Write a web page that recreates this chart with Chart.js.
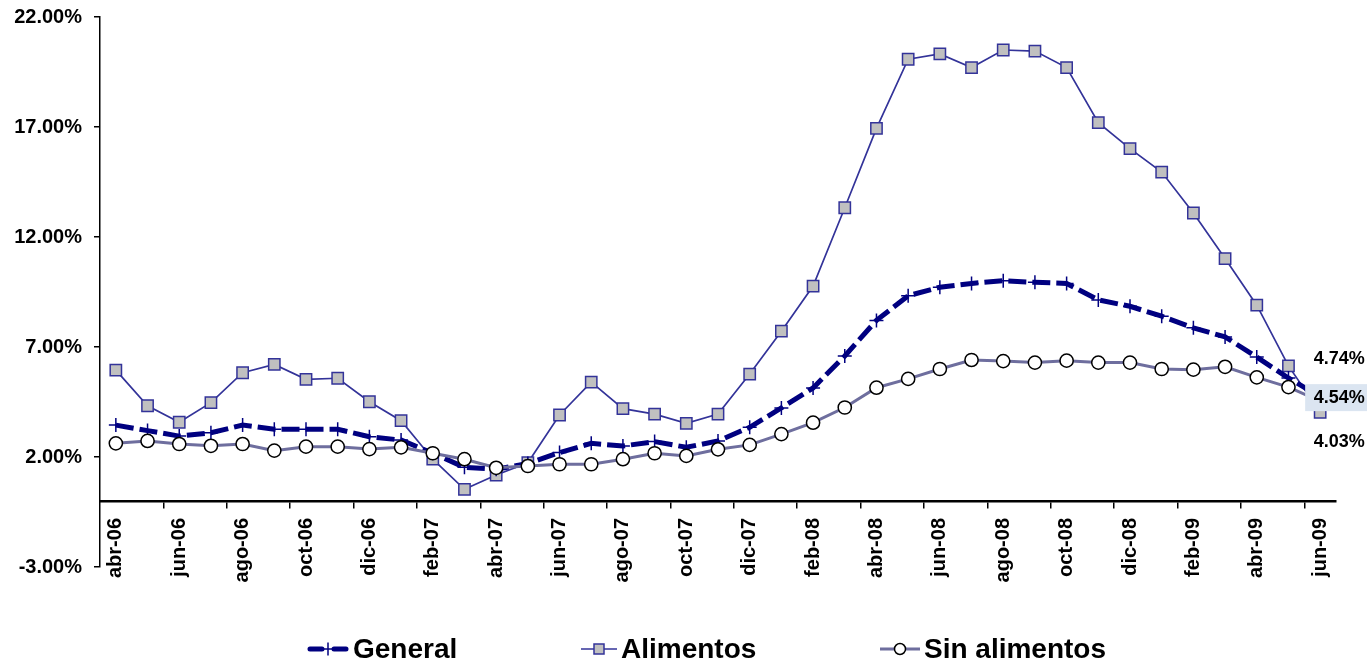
<!DOCTYPE html>
<html>
<head>
<meta charset="utf-8">
<script src="https://cdn.jsdelivr.net/npm/chart.js@4.4.0/dist/chart.umd.min.js"></script>
<style>
  html, body { margin: 0; padding: 0; background: #fff; }
  #wrap { position: relative; width: 1367px; height: 662px; }
  #box { position: absolute; left: 0; top: 0; width: 1367px; height: 662px; }
  #legend { position: absolute; left: 0; top: 634px; width: 100%; height: 30px;
            font: bold 28px "Liberation Sans", Arial, sans-serif; color: #000; }
  .item { position: absolute; top: 0; height: 30px; display: flex; align-items: center; white-space: nowrap; }
  .item canvas { margin-right: 4px; }
</style>
</head>
<body>
<div id="wrap">
  <div id="box"><canvas id="chart"></canvas></div>
  <div id="legend"></div>
</div>
<script>
const labels = [
  "abr-06", "may-06", "jun-06", "jul-06", "ago-06", "sep-06", "oct-06", "nov-06", "dic-06",
  "ene-07", "feb-07", "mar-07", "abr-07", "may-07", "jun-07", "jul-07", "ago-07", "sep-07",
  "oct-07", "nov-07", "dic-07", "ene-08", "feb-08", "mar-08", "abr-08", "may-08", "jun-08",
  "jul-08", "ago-08", "sep-08", "oct-08", "nov-08", "dic-08", "ene-09", "feb-09", "mar-09",
  "abr-09", "may-09", "jun-09"
];

const general = [
  3.45, 3.20, 2.95, 3.10, 3.45, 3.26, 3.26, 3.26, 2.92,
  2.77, 2.17, 1.53, 1.44, 1.71, 2.20, 2.62, 2.50, 2.70,
  2.44, 2.73, 3.35, 4.23, 5.14, 6.59, 8.21, 9.33, 9.72,
  9.89, 10.01, 9.94, 9.89, 9.14, 8.85, 8.40, 7.87, 7.46,
  6.54, 5.59, 4.74
];

const alimentos = [
  5.95, 4.33, 3.58, 4.47, 5.83, 6.21, 5.53, 5.58, 4.51,
  3.65, 1.90, 0.53, 1.18, 1.74, 3.91, 5.40, 4.20, 3.95,
  3.53, 3.95, 5.77, 7.72, 9.77, 13.33, 16.94, 20.08, 20.32,
  19.70, 20.50, 20.45, 19.70, 17.20, 16.02, 14.95, 13.09, 11.02,
  8.90, 6.14, 4.03
];

const sinAlimentos = [
  2.62, 2.73, 2.59, 2.51, 2.59, 2.29, 2.47, 2.47, 2.36,
  2.44, 2.17, 1.90, 1.51, 1.59, 1.67, 1.67, 1.90, 2.17,
  2.05, 2.35, 2.55, 3.04, 3.56, 4.25, 5.15, 5.55, 6.00,
  6.41, 6.36, 6.29, 6.38, 6.29, 6.29, 6.00, 5.97, 6.10,
  5.62, 5.18, 4.54
];

const yTicks = [-3, 2, 7, 12, 17, 22];

const FONT = '"Liberation Sans", Arial, sans-serif';
Chart.defaults.font.family = FONT;
Chart.defaults.color = "#000";

// value labels next to the last point of each line
const endLabelPlugin = {
  id: "endLabels",
  afterDatasetsDraw(chart) {
    const ctx = chart.ctx;
    ctx.save();
    ctx.font = "bold 18px " + FONT;
    ctx.textAlign = "center";
    ctx.textBaseline = "middle";
    chart.data.datasets.forEach((ds, i) => {
      const pts = chart.getDatasetMeta(i).data;
      const pt = pts[pts.length - 1];
      const lab = ds.endLabel;
      const x = pt.x + 19;
      const y = pt.y + lab.dy;
      if (lab.box) {
        ctx.fillStyle = "#dbe5f1";
        ctx.fillRect(x - 34, y - 14, 72, 27);
      }
      ctx.fillStyle = "#000";
      ctx.fillText(ds.data[ds.data.length - 1].toFixed(2) + "%", x, y);
    });
    ctx.restore();
  }
};

const ctx = document.getElementById("chart").getContext("2d");

new Chart(ctx, {
  type: "line",
  data: {
    labels: labels,
    datasets: [
      {
        label: "General",
        data: general,
        order: 2,
        borderColor: "#000080",
        borderWidth: 5,
        borderDash: [18, 6],
        tension: 0,
        fill: false,
        pointStyle: "cross",
        pointRadius: 7,
        pointBorderColor: "#000080",
        pointBorderWidth: 1.5,
        endLabel: { dy: -38, box: false }
      },
      {
        label: "Alimentos",
        data: alimentos,
        order: 3,
        borderColor: "#333399",
        borderWidth: 1.7,
        tension: 0,
        fill: false,
        pointStyle: "rect",
        pointRadius: 8,
        pointBackgroundColor: "#c0c0c0",
        pointBorderColor: "#333399",
        pointBorderWidth: 1.5,
        endLabel: { dy: 30, box: false }
      },
      {
        label: "Sin alimentos",
        data: sinAlimentos,
        order: 1,
        borderColor: "#6e6e9e",
        borderWidth: 3,
        tension: 0,
        fill: false,
        pointStyle: "circle",
        pointRadius: 6.6,
        pointBackgroundColor: "#ffffff",
        pointBorderColor: "#000000",
        pointBorderWidth: 1.5,
        endLabel: { dy: -3, box: true }
      }
    ]
  },
  options: {
    responsive: true,
    maintainAspectRatio: false,
    animation: false,
    layout: { padding: { top: 17, right: 31, bottom: 95, left: 0 } },
    plugins: {
      legend: { display: false },
      tooltip: { enabled: false }
    },
    scales: {
      x: {
        type: "category",
        offset: true,
        position: { y: 0 },
        grid: {
          offset: true,
          drawOnChartArea: false,
          drawTicks: true,
          tickLength: 6,
          lineWidth: 1.5,
          color: (c) => (c.index % 2 === 0 && c.index > 0 && c.index < labels.length ? "#000" : "rgba(0,0,0,0)")
        },
        border: { display: true, color: "#000", width: 2.5 },
        ticks: {
          autoSkip: false,
          maxRotation: 90,
          minRotation: 90,
          padding: 11,
          font: { size: 20, weight: "bold" },
          callback: (v, i) => (i % 2 === 0 ? labels[i] : "")
        }
      },
      y: {
        min: -3,
        max: 22,
        afterFit: (s) => {
          s.width = 100;
          s.paddingTop = 0;
          s.paddingBottom = 0;
        },
        afterBuildTicks: (s) => { s.ticks = yTicks.map((v) => ({ value: v })); },
        grid: {
          drawOnChartArea: false,
          drawTicks: true,
          tickLength: 6,
          lineWidth: 1.5,
          color: "#000"
        },
        border: { display: true, color: "#000", width: 1.5 },
        ticks: {
          padding: 12,
          font: { size: 20, weight: "bold" },
          callback: (v) => Number(v).toFixed(2) + "%"
        }
      }
    }
  },
  plugins: [endLabelPlugin]
});

// legend: line sample with marker, then the series name
const legendItems = [
  { name: "General", left: 307, w: 42, draw: drawGeneral },
  { name: "Alimentos", left: 581, w: 36, draw: drawAlimentos },
  { name: "Sin alimentos", left: 880, w: 40, draw: drawSin }
];

function drawGeneral(g, w, h) {
  g.strokeStyle = "#000080";
  g.lineCap = "round";
  g.lineWidth = 5;
  g.beginPath();
  g.moveTo(3, h / 2); g.lineTo(15, h / 2);
  g.moveTo(27, h / 2); g.lineTo(w - 3, h / 2);
  g.stroke();
  g.lineCap = "butt";
  g.lineWidth = 1.5;
  g.beginPath();
  g.moveTo(w / 2, h / 2 - 6.5); g.lineTo(w / 2, h / 2 + 6.5);
  g.moveTo(w / 2 - 6.5, h / 2); g.lineTo(w / 2 + 6.5, h / 2);
  g.stroke();
}

function drawAlimentos(g, w, h) {
  g.strokeStyle = "#333399";
  g.lineWidth = 1.5;
  g.beginPath();
  g.moveTo(0, h / 2); g.lineTo(w, h / 2);
  g.stroke();
  g.fillStyle = "#c0c0c0";
  g.fillRect(w / 2 - 5, h / 2 - 5, 10, 10);
  g.strokeRect(w / 2 - 5, h / 2 - 5, 10, 10);
}

function drawSin(g, w, h) {
  g.strokeStyle = "#6e6e9e";
  g.lineWidth = 3;
  g.beginPath();
  g.moveTo(0, h / 2); g.lineTo(w, h / 2);
  g.stroke();
  g.fillStyle = "#fff";
  g.strokeStyle = "#000";
  g.lineWidth = 1.5;
  g.beginPath();
  g.arc(w / 2, h / 2, 5.5, 0, Math.PI * 2);
  g.fill();
  g.stroke();
}

const legendEl = document.getElementById("legend");
legendItems.forEach((it) => {
  const div = document.createElement("div");
  div.className = "item";
  div.style.left = it.left + "px";
  const c = document.createElement("canvas");
  c.width = it.w;
  c.height = 20;
  it.draw(c.getContext("2d"), it.w, 20);
  const span = document.createElement("span");
  span.textContent = it.name;
  div.appendChild(c);
  div.appendChild(span);
  legendEl.appendChild(div);
});
</script>
</body>
</html>
